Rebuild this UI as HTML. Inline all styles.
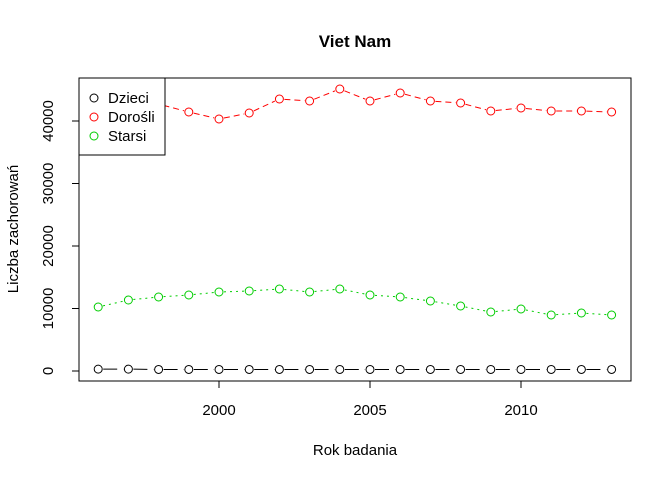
<!DOCTYPE html>
<html><head><meta charset="utf-8"><style>body{margin:0;background:#fff}svg{display:block;font-family:"Liberation Sans",sans-serif}</style></head>
<body>
<svg id="chart" width="672" height="480">
<text x="355" y="47" text-anchor="middle" font-size="17" font-weight="bold">Viet Nam</text>
<text x="355" y="455" text-anchor="middle" font-size="15">Rok badania</text>
<text transform="translate(18,229) rotate(-90)" text-anchor="middle" font-size="15">Liczba zachorowań</text>
<rect x="79" y="78" width="552" height="303" fill="none" stroke="#000"/>
<g id="axes"></g>
<g id="series"></g>
<g>
<rect x="79" y="78" width="86" height="77" fill="#fff" stroke="#000"/>
<circle cx="94" cy="98" r="4" fill="none" stroke="#000"/>
<text x="108" y="103" font-size="15">Dzieci</text>
<circle cx="94" cy="117" r="4" fill="none" stroke="#ff0000"/>
<text x="108" y="122" font-size="15">Dorośli</text>
<circle cx="94" cy="136" r="4" fill="none" stroke="#00cd00"/>
<text x="108" y="141" font-size="15">Starsi</text>
</g>
</svg>
<script>
const years=[1996,1997,1998,1999,2000,2001,2002,2003,2004,2005,2006,2007,2008,2009,2010,2011,2012,2013];
const dzieci=[300,300,250,250,250,250,250,250,250,250,250,250,250,250,250,250,250,250];
const dorosli=[43500,44000,42700,41440,40320,41280,43520,43200,45120,43200,44480,43200,42880,41600,42080,41600,41600,41440];
const starsi=[10240,11360,11840,12160,12640,12800,13120,12640,13120,12160,11840,11200,10400,9440,9920,8960,9280,8960];
const xTicks=[2000,2005,2010];
const yTicks=[0,10000,20000,30000,40000];
const NS="http://www.w3.org/2000/svg";
const X=v=>219+(v-2000)*30.2;
const Y=v=>371-v*0.00625;
function mk(t,a,p){const e=document.createElementNS(NS,t);for(const k in a)e.setAttribute(k,a[k]);p.appendChild(e);return e;}
const ax=document.getElementById('axes');
mk('line',{x1:X(2000),x2:X(2010),y1:381,y2:381,stroke:'#000'},ax);
mk('line',{x1:79,x2:79,y1:Y(0),y2:Y(40000),stroke:'#000'},ax);
xTicks.forEach(t=>{
const l=mk('line',{x1:X(t),x2:X(t),y1:381,y2:388,stroke:'#000'},ax);


const tx=mk('text',{x:X(t),y:415,'text-anchor':'middle','font-size':15},ax);tx.textContent=t;


});
yTicks.forEach(t=>{
const l=mk('line',{x1:72,x2:79,y1:Y(t),y2:Y(t),stroke:'#000'},ax);


const tx=mk('text',{transform:`translate(53,${Y(t)}) rotate(-90)`,'text-anchor':'middle','font-size':15},ax);tx.textContent=t;


});
const sg=document.getElementById('series');
[[dzieci,'#000','14,6','dzieci'],[dorosli,'#ff0000','6,4','dorosli'],[starsi,'#00cd00','2,4','starsi']].forEach(([d,c,da,n])=>{
const pts=d.map((v,i)=>[X(years[i]),Y(v)]);
for(let i=0;i<pts.length-1;i++){
const [x1,y1]=pts[i],[x2,y2]=pts[i+1];const dx=x2-x1,dy=y2-y1,L=Math.hypot(dx,dy),f=5/L;
const l=mk('line',{x1:x1+dx*f,y1:y1+dy*f,x2:x2-dx*f,y2:y2-dy*f,stroke:c,'stroke-dasharray':da},sg);


}
pts.forEach(p=>{
const e=mk('circle',{cx:p[0],cy:p[1],r:4,fill:'none',stroke:c},sg);


});
});
</script>
</body></html>
